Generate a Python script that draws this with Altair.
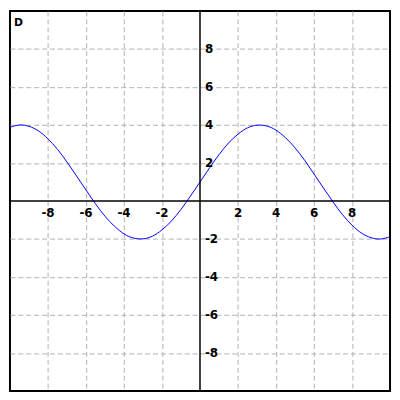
import altair as alt
import pandas as pd

xs = [-10, -9.5, -9, -8.5, -8, -7.5, -7, -6.5, -6, -5.5, -5, -4.5, -4, -3.5, -3, -2.5, -2, -1.5, -1, -0.5,
      0, 0.5, 1, 1.5, 2, 2.5, 3, 3.5, 4, 4.5, 5, 5.5, 6, 6.5, 7, 7.5, 8, 8.5, 9, 9.5, 10]
ys = [3.88, 4.0, 3.93, 3.69, 3.27, 2.72, 2.05, 1.32, 0.58, -0.15, -0.80, -1.33, -1.73, -1.95, -1.99, -1.85, -1.52, -1.05, -0.44, 0.26,
      1.0, 1.74, 2.44, 3.05, 3.52, 3.85, 3.99, 3.95, 3.73, 3.33, 2.80, 2.15, 1.42, 0.68, -0.05, -0.72, -1.27, -1.69, -1.93, -2.0, -1.88]
tick_labels = [-8, -6, -4, -2, 2, 4, 6, 8]
grid_values = [-8, -6, -4, -2, 2, 4, 6, 8]
panel_label = "D"

curve = pd.DataFrame({"x": xs, "y": ys})
xt = pd.DataFrame({"x": tick_labels, "y": [0] * len(tick_labels), "t": [str(v) for v in tick_labels]})
yt = pd.DataFrame({"x": [0] * len(tick_labels), "y": tick_labels, "t": [str(v) for v in tick_labels]})

xs_scale = alt.Scale(domain=[-10, 10], nice=False, zero=False)
ys_scale = alt.Scale(domain=[-10, 10], nice=False, zero=False)
gx = alt.Axis(values=grid_values, grid=True, labels=False, ticks=False, domain=False, title=None,
              gridColor="#b0b0b0", gridDash=[5, 3], gridWidth=1)
gy = alt.Axis(values=grid_values, grid=True, labels=False, ticks=False, domain=False, title=None,
              gridColor="#b0b0b0", gridDash=[5, 3], gridWidth=1)

line = alt.Chart(curve).mark_line(color="#0000ff", strokeWidth=1, interpolate="natural").encode(
    x=alt.X("x:Q", scale=xs_scale, axis=gx),
    y=alt.Y("y:Q", scale=ys_scale, axis=gy),
)

xaxis = alt.Chart(pd.DataFrame({"v": [0]})).mark_rule(color="black", strokeWidth=1.5).encode(
    y=alt.Y("v:Q", scale=ys_scale)
)
yaxis = alt.Chart(pd.DataFrame({"v": [0]})).mark_rule(color="black", strokeWidth=1.5).encode(
    x=alt.X("v:Q", scale=xs_scale)
)

xlab = alt.Chart(xt).mark_text(font="DejaVu Sans", fontWeight="bold", fontSize=12, color="black",
                               align="center", baseline="middle", dy=12).encode(
    x=alt.X("x:Q", scale=xs_scale), y=alt.Y("y:Q", scale=ys_scale), text="t:N"
)
ylab = alt.Chart(yt).mark_text(font="DejaVu Sans", fontWeight="bold", fontSize=12, color="black",
                               align="left", baseline="middle", dx=5).encode(
    x=alt.X("x:Q", scale=xs_scale), y=alt.Y("y:Q", scale=ys_scale), text="t:N"
)
plab = alt.Chart(pd.DataFrame({"t": [panel_label]})).mark_text(
    font="DejaVu Sans", fontWeight="bold", fontSize=11, color="black", align="left", baseline="middle"
).encode(x=alt.value(4), y=alt.value(12), text="t:N")

chart = alt.layer(line, xaxis, yaxis, xlab, ylab, plab).properties(
    width=384, height=384, padding=0
).configure_view(stroke="black", strokeWidth=2)

chart.save("out.html", embed_options={"renderer": "svg", "actions": False})
